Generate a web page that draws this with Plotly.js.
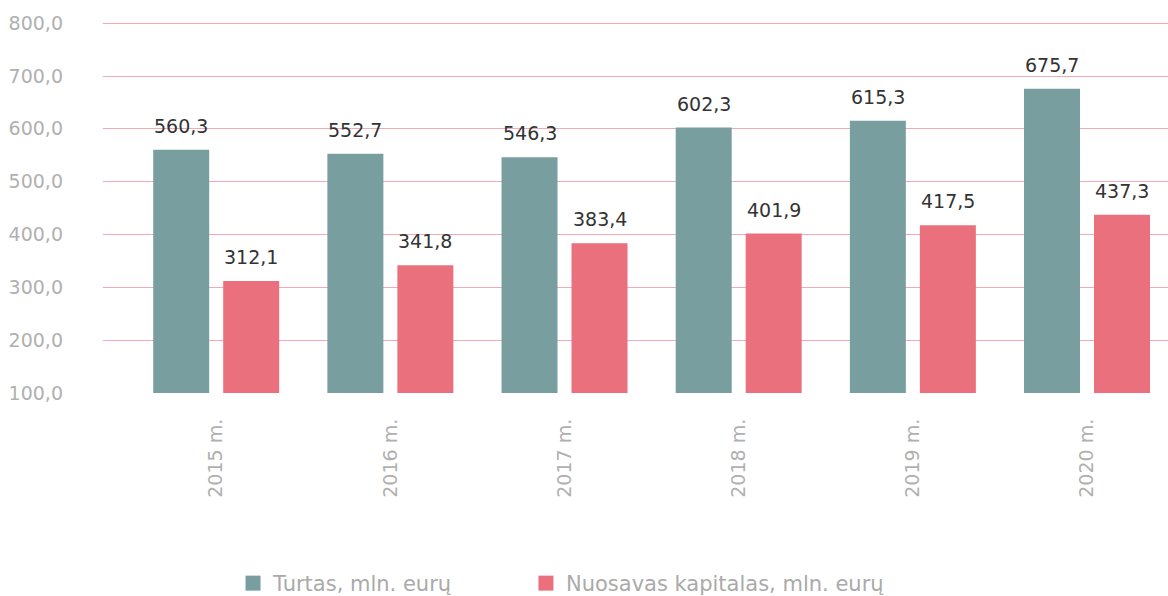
<!DOCTYPE html>
<html>
<head>
<meta charset="utf-8">
<script src="https://cdn.plot.ly/plotly-3.0.1.min.js"></script>
<style>html,body{margin:0;padding:0;background:#fff;}#chart{width:1168px;height:596px;}</style>
</head>
<body>
<div id="chart"></div>
<script>
const categories = ["2015 m.", "2016 m.", "2017 m.", "2018 m.", "2019 m.", "2020 m."];
const turtas = [560.3, 552.7, 546.3, 602.3, 615.3, 675.7];
const kapitalas = [312.1, 341.8, 383.4, 401.9, 417.5, 437.3];
const seriesNames = ["Turtas, mln. eurų", "Nuosavas kapitalas, mln. eurų"];
const yTicks = [100, 200, 300, 400, 500, 600, 700, 800];

const colors = ["#789e9f", "#ea707d"];
const barW = 0.3215;
const offs = [-0.3617, 0.0402];
const FONT = '"DejaVu Sans", "Liberation Sans", sans-serif';

const fmt = v => v.toFixed(1).replace('.', ',');

const traces = [turtas, kapitalas].map((vals, k) => ({
  type: 'bar',
  x: categories,
  y: vals,
  name: seriesNames[k],
  width: barW,
  offset: offs[k],
  marker: {color: colors[k]},
  showlegend: false,
  hoverinfo: 'none'
}));

// legend proxies (square swatches), one per legend box
const legendIds = ['legend', 'legend2'];
seriesNames.forEach((n, k) => {
  traces.push({
    type: 'scatter',
    mode: 'markers',
    x: [categories[0]],
    y: [null],
    name: n,
    legend: legendIds[k],
    marker: {symbol: 'square', size: 15, color: colors[k]},
    showlegend: true,
    hoverinfo: 'none'
  });
});

const annotations = [];
[turtas, kapitalas].forEach((vals, k) => {
  vals.forEach((v, i) => {
    annotations.push({
      x: i + offs[k] + barW / 2,
      y: v,
      xref: 'x', yref: 'y',
      text: fmt(v),
      showarrow: false,
      yanchor: 'bottom',
      yshift: 11,
      font: {family: FONT, size: 19, color: '#333333'}
    });
  });
});

const legendBase = {
  orientation: 'h',
  xref: 'container', yref: 'container',
  xanchor: 'left',
  y: 0.0554, yanchor: 'top',
  font: {family: FONT, size: 21, color: '#aaaaaa'},
  itemwidth: 30,
  bgcolor: 'rgba(0,0,0,0)'
};

const layout = {
  width: 1168, height: 596,
  margin: {l: 103, r: 0, t: 20, b: 203},
  paper_bgcolor: '#ffffff',
  plot_bgcolor: '#ffffff',
  barmode: 'overlay',
  separators: ',.',
  showlegend: true,
  legend: Object.assign({}, legendBase, {x: 0.1995}),
  legend2: Object.assign({}, legendBase, {x: 0.4503}),
  xaxis: {
    type: 'category',
    range: [-0.65, 5.465],
    tickangle: -90,
    tickfont: {family: FONT, size: 19, color: '#b0b0b0'},
    showgrid: false,
    showline: false,
    zeroline: false,
    ticks: '',
    automargin: false,
    ticklabelstandoff: 21
  },
  yaxis: {
    range: [100, 806],
    tickvals: yTicks,
    tickformat: '.1f',
    tickfont: {family: FONT, size: 19, color: '#b0b0b0'},
    gridcolor: '#f3aab6',
    gridwidth: 1,
    zeroline: false,
    showline: false,
    ticks: '',
    automargin: false,
    ticklabelstandoff: 39
  },
  annotations: annotations
};

Plotly.newPlot('chart', traces, layout, {displayModeBar: false, staticPlot: true});
</script>
</body>
</html>
